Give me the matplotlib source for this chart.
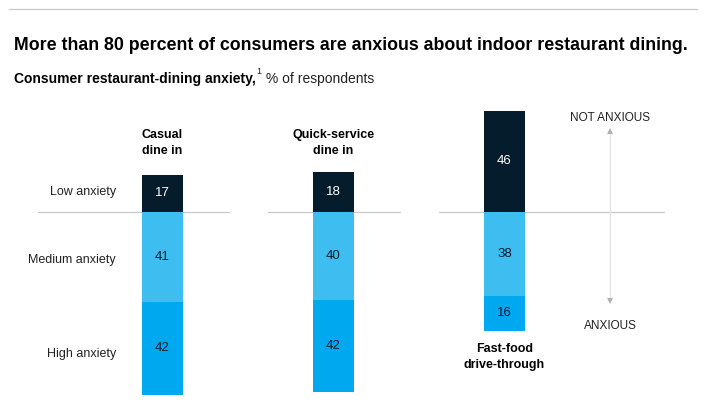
import matplotlib
matplotlib.use("Agg")
import matplotlib.pyplot as plt
import numpy as np

categories = ["Casual\ndine in", "Quick-service\ndine in", "Fast-food\ndrive-through"]
low = [17, 18, 46]
medium = [41, 40, 38]
high = [42, 42, 16]
row_labels = ["Low anxiety", "Medium anxiety", "High anxiety"]

title = "More than 80 percent of consumers are anxious about indoor restaurant dining."
sub_bold = "Consumer restaurant-dining anxiety,"
sub_sup = "1"
sub_reg = " % of respondents"

NAVY = "#051c2c"
MED = "#3dbdf0"
HIGH = "#00a8f0"
TXT = "#222222"

plt.rcParams['font.family'] = ['Liberation Sans', 'DejaVu Sans']

W, H = 710, 415
fig = plt.figure(figsize=(W / 100, H / 100), dpi=100)

ov = fig.add_axes([0, 0, 1, 1])
ov.set_xlim(0, W)
ov.set_ylim(H, 0)
ov.axis("off")

px_per_unit = 2.2
base_px = 212
top_px, bot_px = 100, 400
cx0, spacing = 162.5, 171
ax = fig.add_axes([0, (H - bot_px) / H, 1, (bot_px - top_px) / H])
ax.set_ylim(-(bot_px - base_px) / px_per_unit, (base_px - top_px) / px_per_unit)
ax.set_xlim(-cx0 / spacing, (W - cx0) / spacing)
ax.axis("off")
ax.patch.set_alpha(0)
ov.set_zorder(0)
ax.set_zorder(1)

x = np.arange(len(categories))
bw = 41 / spacing
ax.bar(x, low, bw, bottom=0, color=NAVY, linewidth=0)
med_neg = -np.array(medium)
ax.bar(x, med_neg, bw, bottom=0, color=MED, linewidth=0)
ax.bar(x, -np.array(high), bw, bottom=med_neg, color=HIGH, linewidth=0)

for i in range(len(categories)):
    ax.text(x[i], low[i] / 2, str(low[i]), ha="center", va="center", fontsize=9.5, color="white")
    ax.text(x[i], -medium[i] / 2, str(medium[i]), ha="center", va="center", fontsize=9.5, color=NAVY)
    ax.text(x[i], -medium[i] - high[i] / 2, str(high[i]), ha="center", va="center", fontsize=9.5, color=NAVY)

for (x1, x2) in [(38, 229), (268, 400), (439, 664)]:
    ov.plot([x1, x2], [base_px, base_px], color="#c8c8c8", lw=0.9)

ov.plot([9, 697], [9, 9], color="#c8c8c8", lw=0.9)

ov.text(cx0, 143, categories[0], ha="center", va="center", fontsize=9, fontweight="bold", color="black", linespacing=1.4)
ov.text(cx0 + spacing, 143, categories[1], ha="center", va="center", fontsize=9, fontweight="bold", color="black", linespacing=1.4)
ov.text(cx0 + 2 * spacing, 357, categories[2], ha="center", va="center", fontsize=9, fontweight="bold", color="black", linespacing=1.4)

for lab, y in zip(row_labels, [190, 258, 352]):
    ov.text(116, y, lab, ha="right", va="center_baseline", fontsize=9, color=TXT)

ov.plot([610, 610], [132, 300], color="#e2e2e2", lw=0.9)
ov.plot([610], [131], marker="^", color="#b0b0b0", markersize=4, markeredgewidth=0)
ov.plot([610], [301], marker="v", color="#b0b0b0", markersize=4, markeredgewidth=0)
ov.text(610, 116, "NOT ANXIOUS", ha="center", va="center_baseline", fontsize=8.5, color=TXT)
ov.text(610, 324, "ANXIOUS", ha="center", va="center_baseline", fontsize=8.5, color=TXT)

ov.text(14, 44, title, ha="left", va="center_baseline", fontsize=12.8, fontweight="bold", color="black")

fig.canvas.draw()
r = fig.canvas.get_renderer()
t1 = ov.text(14, 77, sub_bold, ha="left", va="center_baseline", fontsize=10, fontweight="bold", color="black")
bb = t1.get_window_extent(renderer=r)
t2 = ov.text(bb.x1 + 1, 71, sub_sup, ha="left", va="center_baseline", fontsize=6.5, color=TXT)
bb2 = t2.get_window_extent(renderer=r)
ov.text(bb2.x1, 77, sub_reg, ha="left", va="center_baseline", fontsize=10, color=TXT)

fig.savefig("out.png", dpi=100)
